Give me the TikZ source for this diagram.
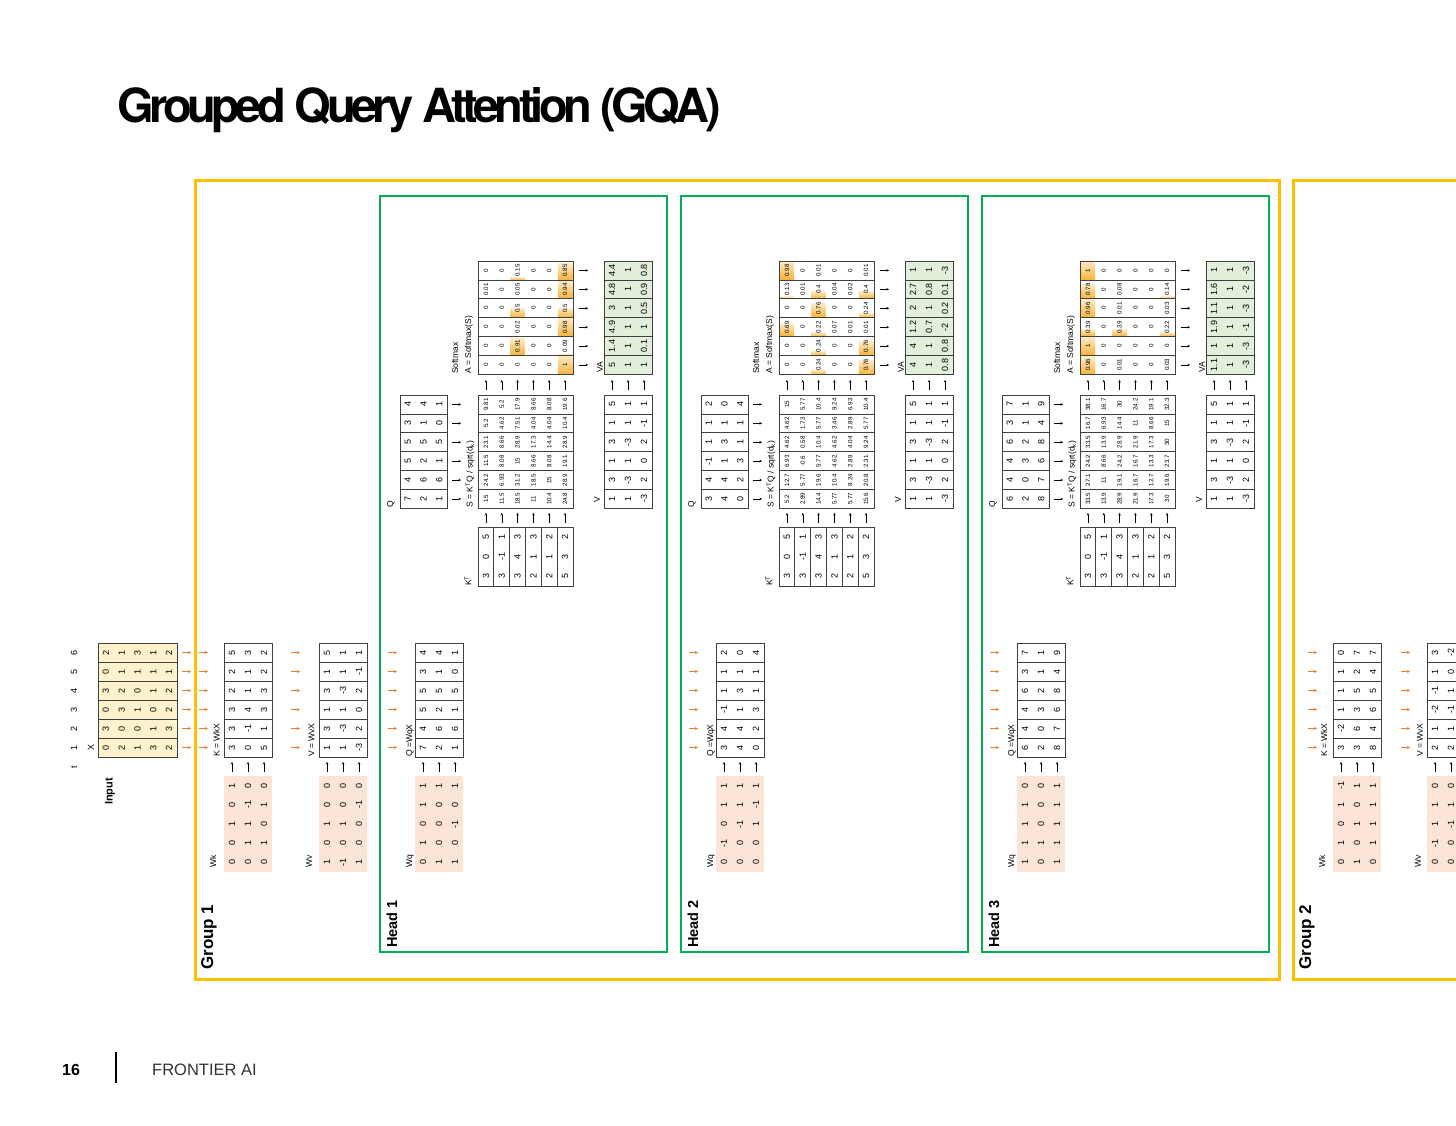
\documentclass[tikz,border=0pt]{standalone}
\usepackage{fontspec}
\setmainfont{Liberation Sans}
\newfontfamily\titlefont[LetterSpace=-9.5]{TeX Gyre Heros}
\usetikzlibrary{arrows.meta}

\definecolor{groupgold}{HTML}{FFC000}
\definecolor{headgreen}{HTML}{00B050}
\definecolor{xcell}{HTML}{FFF2CC}
\definecolor{wcell}{HTML}{FCE4D6}
\definecolor{vacell}{HTML}{E2EFDA}
\definecolor{flowarrow}{HTML}{ED7D31}
\definecolor{gridline}{HTML}{404040}
\definecolor{bardark}{HTML}{F7B23B}
\definecolor{barlight}{HTML}{FDEBC8}

\tikzset{
  numbig/.style={rotate=90, inner sep=0pt, font=\fontsize{9}{9}\selectfont},
  numsmall/.style={rotate=90, inner sep=0pt, font=\fontsize{6.2}{6.2}\selectfont},
  tag/.style={rotate=90, anchor=west, inner sep=0pt, font=\fontsize{8.5}{8.5}\selectfont},
  boldtag/.style={rotate=90, anchor=west, inner sep=0pt},
  cellline/.style={draw=gridline, line width=0.8pt},
  feed/.style={flowarrow, line width=0.6pt, -{Stealth[length=3pt,width=3pt]}},
  mul/.style={black, line width=0.5pt, -{Stealth[length=2.5pt,width=2.5pt]}},
}

% token strips: name, left, top, width, strip height, ncols, fill, number style, rows (top to bottom)
\newcommand{\tokstrips}[9]{%
  \foreach \row [count=\r] in {#9}{%
    \draw[cellline, fill=#7] ({#2},{#3+(\r-1)*#5}) rectangle ++({#4},{#5});
    \foreach \v [count=\c] in \row
      \node[#8] (#1-\r-\c) at ({#2+(\c-0.5)*#4/#6},{#3+(\r-0.5)*#5}) {\v};
  }%
}
% K^T columns: name, left, top, strip width, height, nvals, number style, cols (values bottom to top)
\newcommand{\colstrips}[8]{%
  \foreach \col [count=\r] in {#8}{%
    \draw[cellline, fill=white] ({#2+(\r-1)*#4},{#3}) rectangle ++({#4},{#5});
    \foreach \v [count=\c] in \col
      \node[#7] (#1-\r-\c) at ({#2+(\r-0.5)*#4},{#3+#5-(\c-0.5)*#5/#6}) {\v};
  }%
}
% weight block (no border): name, left, top, width, height, rows (values bottom to top)
\newcommand{\weights}[6]{%
  \fill[wcell] ({#2},{#3}) rectangle ++({#4},{#5});
  \foreach \wrow [count=\r] in {#6}
    \foreach \v [count=\c] in \wrow
      \node[numbig] (#1-\r-\c) at ({#2+(\r-0.5)*#4/3},{#3+#5-(\c-0.5)*#5/5}) {\v};
}
% softmax data bars: left, top, width, strip height, ncols, rows
\newcommand{\probbars}[6]{%
  \foreach \row [count=\r] in {#6}
    \foreach \v [count=\c] in \row {%
      \ifdim\v pt>0pt
        \shade[bottom color=bardark, top color=barlight]
          ({#1+(\c-1)*#3/#5+0.6},{#2+\r*#4}) rectangle ++({#3/#5-1.2},{-\v*#4});
      \fi
    }%
}
% one attention head: no, x shift, Q rows, Wq rows, S rows, A rows, VA rows
\newcommand{\headblock}[7]{%
  \begin{scope}[shift={(#2,0)}]
    \draw[headgreen, line width=2pt] (379.5,195.5) rectangle (667,952);
    \node[boldtag, font=\bfseries\fontsize{14.5}{14.5}\selectfont] (head#1) at (392,948) {Head #1};
    % Q = Wq X
    \foreach \k in {1,...,6}
      \draw[feed] (388,{643+(\k-0.5)*19}) -- ++(9,0);
    \tokstrips{q#1}{415}{643}{48}{19}{3}{white}{numbig}{#3}
    \node[tag] (qlab#1) at (410,757) {Q =WqX};
    \foreach \x in {423,439,455}
      \draw[mul] (\x,772) -- ++(0,-10);
    \weights{wq#1}{415}{776}{48}{96}{#4}
    \node[tag] (wqlab#1) at (410,868) {Wq};
    % scores
    \tokstrips{qt#1}{400}{395}{47}{18.9}{3}{white}{numbig}{#3}
    \node[tag] (qtlab#1) at (391,508) {Q};
    \foreach \k in {1,...,6}
      \draw[mul] (452,{395+(\k-0.5)*18.9}) -- ++(9,0);
    \node[tag] (slab#1) at (470,508) {S = K\textsuperscript{T}Q / sqrt(d\textsubscript{k})};
    \tokstrips{s#1}{478}{395}{95}{18.9}{6}{white}{numsmall}{#5}
    \colstrips{kt#1}{478}{527}{15.83}{59}{3}{numbig}{{3,0,5},{3,-1,1},{3,4,3},{2,1,3},{2,1,2},{5,3,2}}
    \node[tag] (ktlab#1) at (468,586) {K\textsuperscript{T}};
    \foreach \k in {1,...,6}{
      \draw[mul] ({478+(\k-0.5)*15.83},523) -- ++(0,-10);
      \draw[mul] ({478+(\k-0.5)*15.83},390) -- ++(0,-10);
    }
    % softmax
    \probbars{478}{261}{95}{18.9}{6}{#6}
    \tokstrips{a#1}{478}{261}{95}{18.9}{6}{none}{numsmall}{#6}
    \node[tag] (smlab#1) at (455,374) {Softmax};
    \node[tag] (alab#1) at (469,374) {A = Softmax(S)};
    \foreach \k in {1,...,6}
      \draw[mul] (579,{261+(\k-0.5)*18.9}) -- ++(9,0);
    % V and VA
    \tokstrips{vt#1}{604}{395}{48}{18.9}{3}{white}{numbig}{{5,1,1},{1,1,-1},{3,-3,2},{1,1,0},{3,-3,2},{1,1,-3}}
    \node[tag] (vtlab#1) at (597,503) {V};
    \foreach \x in {612,628,644}
      \draw[mul] (\x,390) -- ++(0,-10);
    \tokstrips{va#1}{604}{261}{48}{18.9}{3}{vacell}{numbig}{#7}
    \node[tag] (valab#1) at (600,373) {VA};
  \end{scope}
}

\begin{document}
\begin{tikzpicture}[x=1pt,y=-1pt]
  \clip (0,0) rectangle (1456,1125);
  \fill[white] (0,0) rectangle (1456,1125);

  % title
  \node[anchor=base west, inner sep=0pt, font=\titlefont\bfseries\fontsize{47}{47}\selectfont] (title) at (117,122) {Grouped Query Attention (GQA)};

  % input tokens
  \node[boldtag, font=\bfseries\fontsize{11}{11}\selectfont] (input) at (110,805) {Input};
  \node[numbig] (tlab) at (74,767) {t};
  \foreach \tk [count=\k] in {6,5,4,3,2,1}
    \node[numbig] (t\tk) at (74,{643+(\k-0.5)*19}) {\tk};
  \node[numbig] (xlab) at (91,747) {X};
  \tokstrips{x}{98}{643}{79}{19}{5}{xcell}{numbig}{{2,1,3,1,2},{0,1,1,1,1},{3,2,0,1,2},{0,3,1,0,2},{3,0,0,1,3},{0,2,1,3,2}}
  \foreach \k in {1,...,6}
    \draw[feed] (182,{643+(\k-0.5)*19}) -- ++(9,0);

  % group 1: shared K and V
  \draw[groupgold, line width=3pt] (195.5,180.5) rectangle (1279.5,979);
  \node[boldtag, font=\bfseries\fontsize{17}{17}\selectfont] (group1) at (209,970) {Group 1};
  \foreach \k in {1,...,6}{
    \draw[feed] (199,{643+(\k-0.5)*19}) -- ++(9,0);
    \draw[feed] (291,{643+(\k-0.5)*19}) -- ++(9,0);
  }
  \tokstrips{k}{224}{643}{48}{19}{3}{white}{numbig}{{5,3,2},{2,1,2},{2,1,3},{3,4,3},{3,-1,1},{3,0,5}}
  \node[tag] (klab) at (216.5,757) {K = WkX};
  \weights{wk}{224}{776}{48}{96}{{0,0,1,0,1},{0,1,1,-1,0},{0,1,0,1,0}}
  \node[tag] (wklab) at (213,868) {Wk};
  \tokstrips{v}{319}{643}{48}{19}{3}{white}{numbig}{{5,1,1},{1,1,-1},{3,-3,2},{1,1,0},{3,-3,2},{1,1,-3}}
  \node[tag] (vlab) at (311.5,757) {V = WvX};
  \weights{wv}{319}{776}{48}{96}{{1,0,1,0,0},{-1,0,1,0,0},{1,0,0,-1,0}}
  \node[tag] (wvlab) at (309,868) {Wv};
  \foreach \x in {232,248,264,327,343,359}
    \draw[mul] (\x,772) -- ++(0,-10);

  % heads
  \headblock{1}{0}
    {{4,4,1},{3,1,0},{5,5,5},{5,2,1},{4,6,6},{7,2,1}}
    {{0,1,0,1,1},{1,0,0,0,1},{1,0,-1,0,1}}
    {{9.81,5.2,17.9,8.66,8.08,19.6},{5.2,4.62,7.51,4.04,4.04,10.4},{23.1,8.66,28.9,17.3,14.4,28.9},{11.5,8.08,15,8.66,8.08,19.1},{24.2,6.93,31.2,18.5,15,28.9},{15,11.5,18.5,11,10.4,24.8}}
    {{0,0,0.15,0,0,0.85},{0.01,0,0.05,0,0,0.94},{0,0,0.5,0,0,0.5},{0,0,0.02,0,0,0.98},{0,0,0.91,0,0,0.09},{0,0,0,0,0,1}}
    {{4.4,1,0.8},{4.8,1,0.9},{3,1,0.5},{4.9,1,1},{1.4,1,0.1},{5,1,1}}
  \headblock{2}{301}
    {{2,0,4},{1,1,1},{1,3,1},{-1,1,3},{4,4,2},{3,4,0}}
    {{0,-1,0,1,1},{0,0,-1,1,1},{0,0,1,-1,1}}
    {{15,5.77,10.4,9.24,6.93,10.4},{4.62,1.73,5.77,3.46,2.89,5.77},{4.62,0.58,10.4,4.62,4.04,9.24},{6.93,-0.6,5.77,4.62,2.89,2.31},{12.7,5.77,19.6,10.4,9.24,20.8},{5.2,2.89,14.4,5.77,5.77,15.6}}
    {{0.98,0,0.01,0,0,0.01},{0.13,0.01,0.4,0.04,0.02,0.4},{0,0,0.76,0,0,0.24},{0.69,0,0.22,0.07,0.01,0.01},{0,0,0.24,0,0,0.76},{0,0,0.24,0,0,0.76}}
    {{1,1,-3},{2.7,0.8,0.1},{2,1,0.2},{1.2,0.7,-2},{4,1,0.8},{4,1,0.8}}
  \headblock{3}{602}
    {{7,1,9},{3,1,4},{6,2,8},{4,3,6},{4,0,7},{6,2,8}}
    {{1,1,1,1,0},{0,1,0,0,0},{1,1,1,1,1}}
    {{38.1,16.7,30,24.2,19.1,32.3},{16.7,6.93,14.4,11,8.66,15},{33.5,13.9,28.9,21.9,17.3,30},{24.2,8.66,24.2,16.7,13.3,23.7},{27.1,11,19.1,16.7,12.7,19.6},{33.5,13.9,28.9,21.9,17.3,30}}
    {{1,0,0,0,0,0},{0.78,0,0.08,0,0,0.14},{0.96,0,0.01,0,0,0.03},{0.39,0,0.39,0,0,0.22},{1,0,0,0,0,0},{0.96,0,0.01,0,0,0.03}}
    {{1,1,-3},{1.6,1,-2},{1.1,1,-3},{1.9,1,-1},{1,1,-3},{1.1,1,-3}}

  % group 2 (cut off at the right)
  \draw[groupgold, line width=3pt] (1470,180.5) -- (1293.5,180.5) -- (1293.5,979) -- (1470,979);
  \node[boldtag, font=\bfseries\fontsize{17}{17}\selectfont] (group2) at (1307,970) {Group 2};
  \foreach \k in {1,...,6}{
    \draw[feed] (1308,{643+(\k-0.5)*19}) -- ++(9,0);
    \draw[feed] (1401,{643+(\k-0.5)*19}) -- ++(9,0);
  }
  \tokstrips{k2}{1333}{643}{48}{19}{3}{white}{numbig}{{0,7,7},{1,2,4},{1,5,5},{1,3,6},{-2,6,4},{3,3,8}}
  \node[tag] (k2lab) at (1324,757) {K = WkX};
  \weights{wk2}{1333}{776}{48}{96}{{0,1,0,1,-1},{1,0,1,0,1},{0,1,1,1,1}}
  \node[tag] (wk2lab) at (1322,868) {Wk};
  \tokstrips{v2}{1427}{643}{48}{19}{3}{white}{numbig}{{3,-2},{1,0},{-1,1},{-2,-1},{1,1},{2,2}}
  \node[tag] (v2lab) at (1420,757) {V = WvX};
  \weights{wv2}{1427}{776}{48}{96}{{0,-1,1,1,0},{0,0,-1,1,0}}
  \node[tag] (wv2lab) at (1418,868) {Wv};
  \foreach \x in {1341,1357,1373,1435,1451}
    \draw[mul] (\x,772) -- ++(0,-10);

  % footer
  \node[anchor=base west, inner sep=0pt, font=\bfseries\fontsize{16}{16}\selectfont] (page) at (62,1075) {16};
  \coordinate (bartop) at (116,1052);
  \coordinate (barbot) at (116,1083);
  \draw[line width=2.5pt] (bartop) -- (barbot);
  \node[anchor=base west, inner sep=0pt, font=\fontsize{16.5}{16.5}\selectfont, text=black!80] (brand) at (152,1075) {FRONTIER AI};
\end{tikzpicture}
\end{document}
